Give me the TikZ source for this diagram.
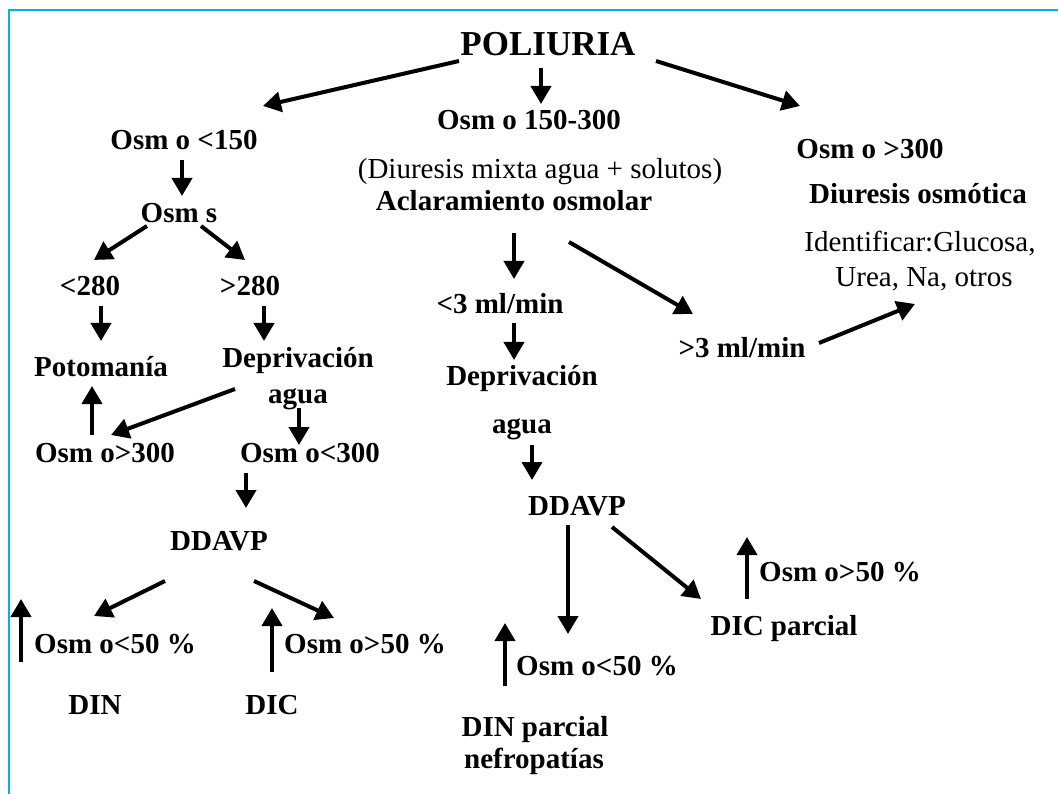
\documentclass[tikz,border=0pt]{standalone}
\usepackage{fontspec}
\setmainfont{Liberation Serif}
\usetikzlibrary{arrows.meta}
\definecolor{framecyan}{RGB}{0,176,240}
\begin{document}
\begin{tikzpicture}[x=1pt,y=-1pt,
  lbl/.style={inner sep=0pt,anchor=base,font=\bfseries\fontsize{29}{34}\selectfont},
  reg/.style={inner sep=0pt,anchor=base,font=\fontsize{29}{34}\selectfont},
  title/.style={inner sep=0pt,anchor=base,font=\bfseries\fontsize{35}{40}\selectfont},
  arr/.style={line width=4pt,-{Triangle[length=18pt,width=20pt]}},
  frame/.style={line width=2pt,draw=framecyan}]
\useasboundingbox (0,0) rectangle (1058,794);
\fill[white] (0,0) rectangle (1058,794);
\coordinate (fa) at (1058,10.5);
\coordinate (fb) at (8.5,10.5);
\coordinate (fc) at (8.5,794);
\draw[frame] (fa) -- (fb) -- (fc);
% texts
\node[title] (poli) at (548,56) {POLIURIA};
\node[lbl] (mid) at (529,130) {Osm o 150-300};
\node[reg] (mixta) at (540,179) {(Diuresis mixta agua + solutos)};
\node[lbl] (aclar) at (514,211) {Aclaramiento osmolar};
\node[lbl] (low) at (184,150) {Osm o <150};
\node[lbl] (osms) at (179,223) {Osm s};
\node[lbl] (l280) at (90,296) {<280};
\node[lbl] (g280) at (250,296) {>280};
\node[lbl] (poto) at (101,377) {Potomanía};
\node[lbl] (depL) at (298,368) {Deprivación};
\node[lbl] (aguaL) at (298,403) {agua};
\node[lbl] (g300L) at (105,462) {Osm o>300};
\node[lbl] (l300L) at (310,462) {Osm o<300};
\node[lbl] (ddL) at (219,550) {DDAVP};
\node[lbl] (l50L) at (115,653) {Osm o<50 \%};
\node[lbl] (g50M) at (365,653) {Osm o>50 \%};
\node[lbl] (din) at (95,714) {DIN};
\node[lbl] (dic) at (272,714) {DIC};
\node[lbl] (l3) at (500,314) {<3 ml/min};
\node[lbl] (depM) at (522,385) {Deprivación};
\node[lbl] (aguaM) at (522,433) {agua};
\node[lbl] (ddM) at (577,515) {DDAVP};
\node[lbl] (l50M) at (597,675) {Osm o<50 \%};
\node[lbl] (dinp) at (535,736) {DIN parcial};
\node[lbl] (nefro) at (534,768) {nefropatías};
\node[lbl] (dicp) at (784,635) {DIC parcial};
\node[lbl] (g50R) at (840,581) {Osm o>50 \%};
\node[lbl] (g3) at (742,358) {>3 ml/min};
\node[lbl] (high) at (870,159) {Osm o >300};
\node[lbl] (osmo) at (918,204) {Diuresis osmótica};
\node[reg] (ident) at (920,252) {Identificar:Glucosa,};
\node[reg] (urea) at (924,287) {Urea, Na, otros};
% arrow end points
\coordinate (a1s) at (459,61);  \coordinate (a1e) at (263,106);
\coordinate (a2s) at (541,68);  \coordinate (a2e) at (541,104);
\coordinate (a3s) at (656,61);  \coordinate (a3e) at (800,106);
\coordinate (a4s) at (182,160); \coordinate (a4e) at (182,196);
\coordinate (a5s) at (147,226); \coordinate (a5e) at (94,260);
\coordinate (a6s) at (201,226); \coordinate (a6e) at (245,260);
\coordinate (a7s) at (101,306); \coordinate (a7e) at (101,341);
\coordinate (a8s) at (264,306); \coordinate (a8e) at (264,341);
\coordinate (a9s) at (235,389); \coordinate (a9e) at (111,435);
\coordinate (a10s) at (92,435); \coordinate (a10e) at (92,386);
\coordinate (a11s) at (299,408); \coordinate (a11e) at (299,445);
\coordinate (a12s) at (246,473); \coordinate (a12e) at (246,508);
\coordinate (a13s) at (165,581); \coordinate (a13e) at (94,616);
\coordinate (a14s) at (254,581); \coordinate (a14e) at (334,618);
\coordinate (a15s) at (21,662); \coordinate (a15e) at (21,599);
\coordinate (a16s) at (272,672); \coordinate (a16e) at (272,608);
\coordinate (a17s) at (514,233); \coordinate (a17e) at (514,279);
\coordinate (a18s) at (569,242); \coordinate (a18e) at (693,314);
\coordinate (a19s) at (514,323); \coordinate (a19e) at (514,360);
\coordinate (a20s) at (532,445); \coordinate (a20e) at (532,480);
\coordinate (a21s) at (568,525); \coordinate (a21e) at (568,634);
\coordinate (a22s) at (612,527); \coordinate (a22e) at (701,599);
\coordinate (a23s) at (747,599); \coordinate (a23e) at (747,537);
\coordinate (a24s) at (505,686); \coordinate (a24e) at (505,623);
\coordinate (a25s) at (819,343); \coordinate (a25e) at (915,304);
\foreach \i in {1,...,25} {\draw[arr] (a\i s) -- (a\i e);}
\end{tikzpicture}
\end{document}
